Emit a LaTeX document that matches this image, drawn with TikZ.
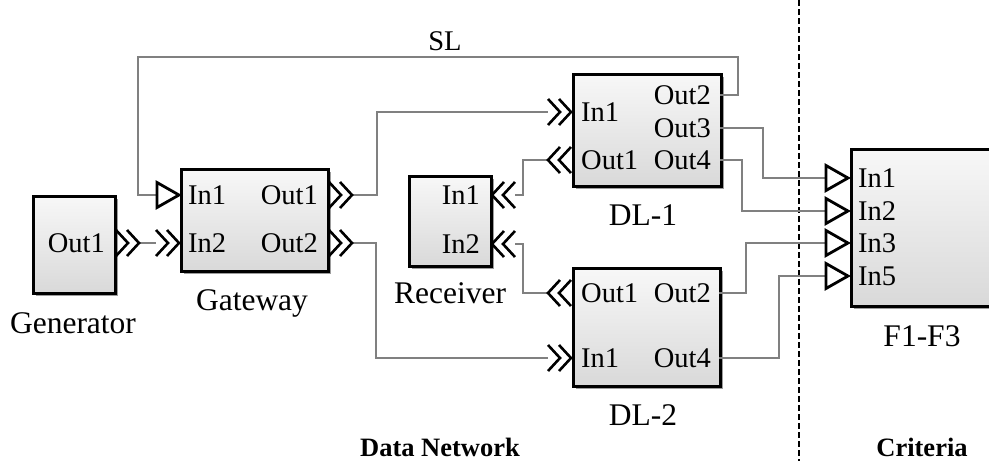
\documentclass[tikz,border=0pt]{standalone}
\usepackage{fontspec}
\setmainfont{Liberation Serif}
\usetikzlibrary{shadows}
\tikzset{
  blk/.style={draw=black, line width=3.2pt, rectangle, inner sep=0pt,
    top color=gray!6, bottom color=gray!30,
    drop shadow={shadow xshift=2.5pt, shadow yshift=-2.5pt, fill=black!55, opacity=0.7}},
  plab/.style={font=\fontsize{28.5}{31}\selectfont, inner sep=0pt},
  blab/.style={font=\fontsize{31.5}{34}\selectfont, inner sep=0pt, anchor=base},
  slab/.style={font=\bfseries\fontsize{26.5}{30}\selectfont, inner sep=0pt, anchor=base},
  conn/.style={draw=black!50, line width=1.8pt},
  chev/.style={draw=black, line width=2.6pt, line join=miter},
  tri/.style={draw=black, fill=white, line width=2.8pt, line join=miter},
  dchr/.pic={\draw[chev] (0,-13)--(12,0)--(0,13) (11,-13)--(23,0)--(11,13);},
  dchl/.pic={\draw[chev] (0,-13)--(-12,0)--(0,13) (-11,-13)--(-23,0)--(-11,13);},
  trip/.pic={\draw[tri] (1,-12.5)--(23,0)--(1,12.5)--cycle;}
}
\begin{document}
\begin{tikzpicture}[x=1pt,y=-1pt]
\useasboundingbox (0,0) rectangle (989,461);
\begin{scope}
\clip (0,0) rectangle (989,461);

% dashed separator
\draw[black, line width=2pt, dash pattern=on 6pt off 3pt] (799,0) -- (799,461);

% blocks
\node[blk, minimum width=82pt, minimum height=97pt, anchor=north west] (gen) at (32,195) {};
\node[blk, minimum width=147pt, minimum height=102pt, anchor=north west] (gw) at (180,168) {};
\node[blk, minimum width=82pt, minimum height=90pt, anchor=north west] (rc) at (408,175) {};
\node[blk, minimum width=148pt, minimum height=112pt, anchor=north west] (dla) at (572,73) {};
\node[blk, minimum width=147pt, minimum height=118pt, anchor=north west] (dlb) at (572,267) {};
\node[blk, minimum width=160pt, minimum height=157pt, anchor=north west] (fb) at (850,148) {};

% port coordinates
\coordinate (genout) at (138,243);
\coordinate (gwin1) at (156,195);
\coordinate (gwin2) at (156,243);
\coordinate (gwout1) at (351,195);
\coordinate (gwout2) at (351,243);
\coordinate (rcin1) at (515,195);
\coordinate (rcin2) at (515,244);
\coordinate (dlain1) at (548,112);
\coordinate (dlaout1) at (548,160);
\coordinate (dlaout2) at (720,95);
\coordinate (dlaout3) at (720,128);
\coordinate (dlaout4) at (720,160);
\coordinate (dlbout1) at (548,293);
\coordinate (dlbin1) at (548,358);
\coordinate (dlbout2) at (719,293);
\coordinate (dlbout4) at (719,358);
\coordinate (fin1) at (825,178);
\coordinate (fin2) at (825,211);
\coordinate (fin3) at (825,243);
\coordinate (fin5) at (825,276);

% connectors
\draw[conn] (dlaout2) -- (738,95) -- (738,57) -- (138,57) -- (138,195) -- (gwin1);
\draw[conn] (genout) -- (gwin2);
\draw[conn] (gwout1) -- (377,195) -- (377,112) -- (dlain1);
\draw[conn] (gwout2) -- (376,243) -- (376,358) -- (dlbin1);
\draw[conn] (dlaout1) -- (523,160) -- (523,195) -- (rcin1);
\draw[conn] (dlbout1) -- (523,293) -- (523,244) -- (rcin2);
\draw[conn] (dlaout3) -- (763,128) -- (763,178) -- (fin1);
\draw[conn] (dlaout4) -- (742,160) -- (742,211) -- (fin2);
\draw[conn] (dlbout2) -- (746,293) -- (746,243) -- (fin3);
\draw[conn] (dlbout4) -- (779,358) -- (779,276) -- (fin5);

% port markers
\pic at (116,243) {dchr};
\pic at (gwin2) {dchr};
\pic at (gwin1) {trip};
\pic at (329,195) {dchr};
\pic at (329,243) {dchr};
\pic at (dlain1) {dchr};
\pic at (571,160) {dchl};
\pic at (rcin1) {dchl};
\pic at (rcin2) {dchl};
\pic at (571,293) {dchl};
\pic at (dlbin1) {dchr};
\pic at (fin1) {trip};
\pic at (fin2) {trip};
\pic at (fin3) {trip};
\pic at (fin5) {trip};

% port labels
\node[plab, anchor=base east] (l1) at (105,252) {Out1};
\node[plab, anchor=base west] (l2) at (188,204) {In1};
\node[plab, anchor=base west] (l3) at (188,252) {In2};
\node[plab, anchor=base east] (l4) at (318,204) {Out1};
\node[plab, anchor=base east] (l5) at (318,252) {Out2};
\node[plab, anchor=base east] (l6) at (480,204) {In1};
\node[plab, anchor=base east] (l7) at (480,253) {In2};
\node[plab, anchor=base west] (l8) at (581,121) {In1};
\node[plab, anchor=base west] (l9) at (581,169) {Out1};
\node[plab, anchor=base east] (l10) at (711,104) {Out2};
\node[plab, anchor=base east] (l11) at (711,137) {Out3};
\node[plab, anchor=base east] (l12) at (711,169) {Out4};
\node[plab, anchor=base west] (l13) at (581,302) {Out1};
\node[plab, anchor=base west] (l14) at (581,367) {In1};
\node[plab, anchor=base east] (l15) at (711,302) {Out2};
\node[plab, anchor=base east] (l16) at (711,367) {Out4};
\node[plab, anchor=base west] (l17) at (858,187) {In1};
\node[plab, anchor=base west] (l18) at (858,220) {In2};
\node[plab, anchor=base west] (l19) at (858,252) {In3};
\node[plab, anchor=base west] (l20) at (858,285) {In5};
\end{scope}

% block names
\node[blab] (n1) at (73,333) {Generator};
\node[blab] (n2) at (252,310) {Gateway};
\node[blab] (n3) at (450,303) {Receiver};
\node[blab] (n4) at (643,225) {DL-1};
\node[blab] (n5) at (643,425) {DL-2};
\node[blab] (n6) at (922,346) {F1-F3};
\node[plab, anchor=base] (sl) at (445,50) {SL};
\node[slab] (s1) at (440,456) {Data Network};
\node[slab] (s2) at (922,456) {Criteria};
\end{tikzpicture}
\end{document}
